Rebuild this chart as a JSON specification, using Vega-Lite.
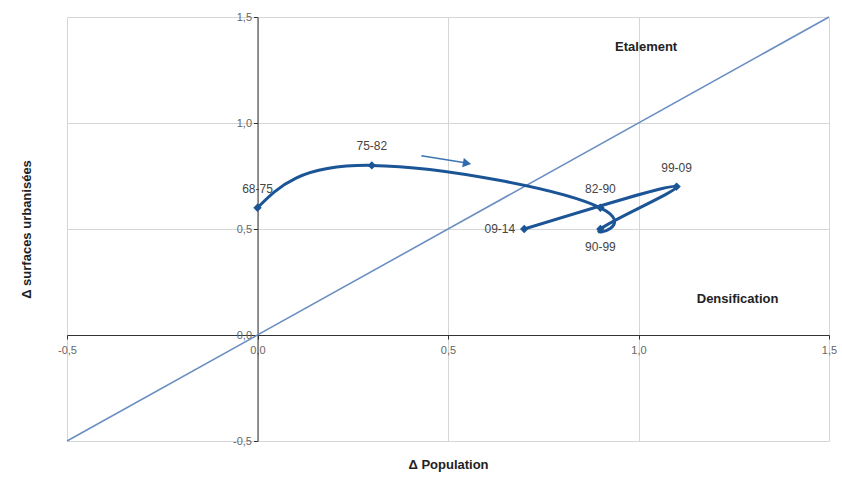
{
  "$schema": "https://vega.github.io/schema/vega-lite/v6.json",
  "autosize": {"type": "none"},
  "width": 762,
  "height": 424,
  "padding": {"left": 67, "top": 17, "right": 13, "bottom": 45},
  "background": "white",
  "config": {"view": {"stroke": null}, "font": "Liberation Sans"},
  "datasets": {
    "diag": [{"px": -0.5, "su": -0.5}, {"px": 1.5, "su": 1.5}],
    "periods": [
      {"ord": 1, "label": "68-75", "px": 0.0, "su": 0.6},
      {"ord": 2, "label": "75-82", "px": 0.3, "su": 0.8},
      {"ord": 3, "label": "82-90", "px": 0.9, "su": 0.6},
      {"ord": 4, "label": "90-99", "px": 0.9, "su": 0.5},
      {"ord": 5, "label": "99-09", "px": 1.1, "su": 0.7},
      {"ord": 6, "label": "09-14", "px": 0.7, "su": 0.5}
    ],
    "arrow": [{"px": 0.43, "su": 0.845}, {"px": 0.545, "su": 0.812}],
    "arrowhead": [{"px": 0.55, "su": 0.81}],
    "zones": [
      {"name": "Etalement", "px": 1.02, "su": 1.36},
      {"name": "Densification", "px": 1.26, "su": 0.17}
    ]
  },
  "resolve": {"axis": {"x": "independent", "y": "independent"}},
  "layer": [
    {
      "data": {"name": "diag"},
      "mark": {"type": "line", "color": "#6b8fc2", "strokeWidth": 1.6},
      "encoding": {
        "x": {
          "field": "px", "type": "quantitative",
          "scale": {"domain": [-0.5, 1.5], "nice": false, "zero": false},
          "axis": {
            "orient": "bottom",
            "values": [-0.5, 0, 0.5, 1, 1.5], "grid": true, "gridColor": "#d6d6d6",
            "domain": false, "ticks": false, "labels": false,
            "title": "Δ Population", "titleFontSize": 13, "titleFontWeight": "bold",
            "titleColor": "#222", "titlePadding": 17
          }
        },
        "y": {
          "field": "su", "type": "quantitative",
          "scale": {"domain": [-0.5, 1.5], "nice": false, "zero": false},
          "axis": {
            "orient": "left",
            "values": [-0.5, 0, 0.5, 1, 1.5], "grid": true, "gridColor": "#d6d6d6",
            "domain": false, "ticks": false, "labels": false,
            "title": "Δ surfaces urbanisées", "titleFontSize": 13, "titleFontWeight": "bold",
            "titleColor": "#222", "titlePadding": 34
          }
        }
      }
    },
    {
      "data": {"name": "periods"},
      "mark": {"type": "line", "color": "#1b5596", "strokeWidth": 3, "interpolate": "natural"},
      "encoding": {
        "x": {
          "field": "px", "type": "quantitative",
          "axis": {
            "orient": "bottom",
            "values": [-0.5, 0, 0.5, 1, 1.5], "grid": false, "offset": -106,
            "domainColor": "#333", "tickColor": "#333", "tickSize": 4,
            "labelFlush": false, "labelOverlap": false,
            "labelExpr": "replace(replace(format(datum.value, '.1f'), '.', ','), '\u2212', '-')",
            "labelColor": "#666", "labelFontSize": 11, "labelPadding": 5, "title": null
          }
        },
        "y": {
          "field": "su", "type": "quantitative",
          "axis": {
            "orient": "left",
            "values": [-0.5, 0, 0.5, 1, 1.5], "grid": false, "offset": -190.5,
            "domainColor": "#333", "tickColor": "#333", "tickSize": 4,
            "labelFlush": false, "labelOverlap": false,
            "labelExpr": "replace(replace(format(datum.value, '.1f'), '.', ','), '\u2212', '-')",
            "labelColor": "#666", "labelFontSize": 11, "labelPadding": 2, "title": null
          }
        },
        "order": {"field": "ord", "type": "quantitative"}
      }
    },
    {
      "data": {"name": "periods"},
      "mark": {"type": "point", "shape": "diamond", "filled": true, "color": "#1b5596", "size": 70, "opacity": 1},
      "encoding": {
        "x": {"field": "px", "type": "quantitative", "axis": null},
        "y": {"field": "su", "type": "quantitative", "axis": null}
      }
    },
    {
      "data": {"name": "periods"},
      "transform": [{"filter": "indexof(['68-75','75-82','82-90','99-09'], datum.label) >= 0"}],
      "mark": {"type": "text", "fontSize": 12, "color": "#444", "baseline": "middle", "dy": -19},
      "encoding": {
        "x": {"field": "px", "type": "quantitative", "axis": null},
        "y": {"field": "su", "type": "quantitative", "axis": null},
        "text": {"field": "label"}
      }
    },
    {
      "data": {"name": "periods"},
      "transform": [{"filter": "datum.label == '90-99'"}],
      "mark": {"type": "text", "fontSize": 12, "color": "#444", "baseline": "middle", "dy": 18},
      "encoding": {
        "x": {"field": "px", "type": "quantitative", "axis": null},
        "y": {"field": "su", "type": "quantitative", "axis": null},
        "text": {"field": "label"}
      }
    },
    {
      "data": {"name": "periods"},
      "transform": [{"filter": "datum.label == '09-14'"}],
      "mark": {"type": "text", "fontSize": 12, "color": "#444", "baseline": "middle", "align": "right", "dx": -9},
      "encoding": {
        "x": {"field": "px", "type": "quantitative", "axis": null},
        "y": {"field": "su", "type": "quantitative", "axis": null},
        "text": {"field": "label"}
      }
    },
    {
      "data": {"name": "arrow"},
      "mark": {"type": "line", "color": "#3b75b3", "strokeWidth": 1.5},
      "encoding": {
        "x": {"field": "px", "type": "quantitative", "axis": null},
        "y": {"field": "su", "type": "quantitative", "axis": null}
      }
    },
    {
      "data": {"name": "arrowhead"},
      "mark": {"type": "point", "shape": "triangle-right", "filled": true, "color": "#2f6aae", "size": 90, "angle": 10, "opacity": 1},
      "encoding": {
        "x": {"field": "px", "type": "quantitative", "axis": null},
        "y": {"field": "su", "type": "quantitative", "axis": null}
      }
    },
    {
      "data": {"name": "zones"},
      "mark": {"type": "text", "fontSize": 13, "fontWeight": "bold", "color": "#222", "baseline": "middle"},
      "encoding": {
        "x": {"field": "px", "type": "quantitative", "axis": null},
        "y": {"field": "su", "type": "quantitative", "axis": null},
        "text": {"field": "name"}
      }
    }
  ]
}
